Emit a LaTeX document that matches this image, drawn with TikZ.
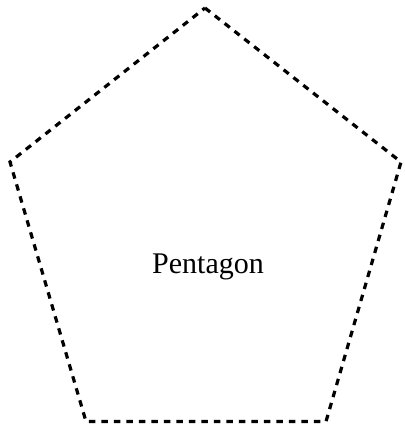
\documentclass[tikz,border=0pt]{standalone}
\usepackage{fontspec}
\setmainfont{Liberation Serif}
\begin{document}
\begin{tikzpicture}[x=1pt,y=1pt,
  pentaline/.style={line width=3.2pt, dash pattern=on 6.5pt off 6pt, line join=miter},
  label/.style={font=\fontsize{30}{34}\selectfont, inner sep=0pt, anchor=base}]
\useasboundingbox (0,0) rectangle (404,427);
\coordinate (t) at (205,419);
\coordinate (l) at (10,265);
\coordinate (r) at (401,265);
\coordinate (bl) at (86,5.5);
\coordinate (br) at (326,5.5);
\draw[pentaline] (t) -- (r) -- (br) -- (bl) -- (l) -- cycle;
\node[label] (txt) at (208,153) {Pentagon};
\end{tikzpicture}
\end{document}
